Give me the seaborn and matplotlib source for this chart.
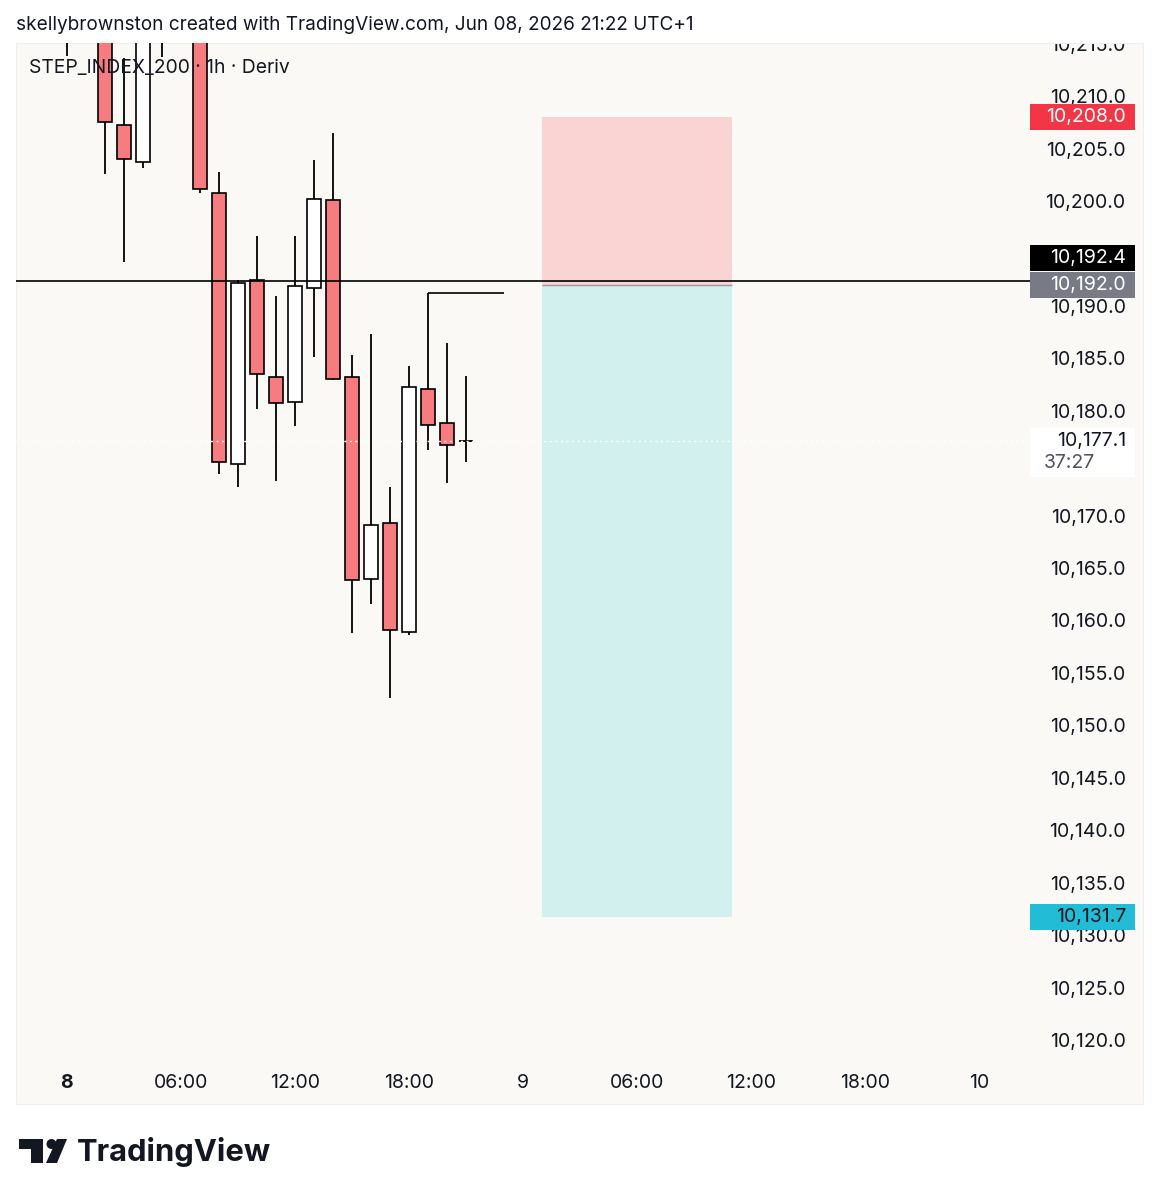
import numpy as np
import pandas as pd
import seaborn as sns
import matplotlib.pyplot as plt
import matplotlib.transforms as mtransforms
from matplotlib.patches import Rectangle, Circle, Polygon

# hourly candles, Jun 8 (hour 0 = 8 Jun 00:00)
hours = list(range(22))
opens = [10224.0, 10220.0, 10223.0, 10207.2, 10203.7, 10218.0, 10221.5, 10219.0,
         10200.8, 10174.9, 10192.5, 10183.2, 10180.8, 10191.7, 10200.1, 10183.2,
         10164.0, 10169.3, 10158.9, 10182.1, 10178.8, 10177.1]
highs = [10228.0, 10224.5, 10225.0, 10213.6, 10219.5, 10224.0, 10226.0, 10221.0,
         10202.8, 10192.5, 10196.7, 10190.9, 10196.7, 10203.9, 10206.5, 10185.3,
         10187.3, 10172.7, 10184.3, 10191.2, 10186.5, 10183.3]
lows = [10213.8, 10216.0, 10202.6, 10194.2, 10203.1, 10213.7, 10216.5, 10200.8,
        10174.0, 10172.7, 10180.2, 10173.3, 10178.5, 10185.1, 10182.9, 10158.8,
        10161.6, 10152.6, 10158.6, 10176.3, 10173.1, 10175.1]
closes = [10220.0, 10223.0, 10207.5, 10204.0, 10218.0, 10221.5, 10219.0, 10201.1,
          10175.1, 10192.2, 10183.5, 10180.7, 10191.9, 10200.2, 10183.0, 10163.9,
          10169.1, 10159.1, 10182.3, 10178.6, 10176.7, 10177.1]

# drawings
hline_price = 10192.4
ray_price = 10191.2
ray_start, ray_end = 19, 23
entry_price = 10192.0
stop_price = 10208.0
target_price = 10131.7
box_start, box_end = 25, 35
last_price = 10177.1
countdown = "37:27"

xtick_pos = [0, 6, 12, 18, 24, 30, 36, 42, 48]
xtick_labels = ["8", "06:00", "12:00", "18:00", "9", "06:00", "12:00", "18:00", "10"]
ytick_pos = list(range(10120, 10216, 5))
hidden_ticks = [10175, 10195]  # covered by price labels on the scale

df = pd.DataFrame({"hour": hours, "open": opens, "high": highs,
                   "low": lows, "close": closes})

sns.set_theme(style="white")
plt.rcParams['font.family'] = ['Inter', 'DejaVu Sans']

RED = "#f77c80"
BG = "#faf9f6"
TXT = "#131722"
FS = 14

fig = plt.figure(figsize=(11.59, 12.0), dpi=100)
fig.patch.set_facecolor("white")
ax = fig.add_axes([16 / 1159, 1 - 1104 / 1200, 1127 / 1159, 1061 / 1200])
ax.set_facecolor(BG)
for s in ax.spines.values():
    s.set_color("#eeeeec")
    s.set_linewidth(0.8)

ax.set_xlim(-2.68, 56.63)
ax.set_ylim(10113.9, 10215.06)

# position tool
ax.add_patch(Rectangle((box_start, entry_price), box_end - box_start,
                       stop_price - entry_price, facecolor="#f9d4d3",
                       edgecolor="none", zorder=1))
ax.add_patch(Rectangle((box_start, target_price), box_end - box_start,
                       entry_price - target_price, facecolor="#d1f0ee",
                       edgecolor="none", zorder=1))
ax.hlines(entry_price, box_start, box_end, color="#9598a1", lw=1.0, zorder=1.5)

# candles
ax.vlines(df["hour"], df["low"], df["high"], color="black", lw=1.3, zorder=3)
body = df[df["open"] != df["close"]]
colors = np.where(body["close"] > body["open"], "white", RED)
ax.bar(body["hour"], (body["close"] - body["open"]).abs(),
       bottom=body[["open", "close"]].min(axis=1), width=0.72,
       color=colors, edgecolor="black", linewidth=1.2, zorder=4)
flat = df[df["open"] == df["close"]]
ax.hlines(flat["open"], flat["hour"] - 0.36, flat["hour"] + 0.36,
          color="black", lw=1.3, zorder=4)

axr = mtransforms.blended_transform_factory(ax.transAxes, ax.transData)
plot_right = (1030 - 16) / 1127

# horizontal line and ray
ax.plot([0, plot_right], [hline_price, hline_price], color="black", lw=1.2,
        transform=axr, zorder=5)
ax.hlines(ray_price, ray_start, ray_end, color="black", lw=1.2, zorder=5)

# last price dotted line
ax.plot([0, plot_right], [last_price, last_price], color="white", lw=1.0,
        ls=(0, (1.5, 2.5)), transform=axr, zorder=6)

# ticks
ax.set_yticks(ytick_pos)
ax.set_yticklabels(["" if v in hidden_ticks else f"{v:,.1f}" for v in ytick_pos])
ax.yaxis.tick_right()
ax.tick_params(axis="y", length=0, pad=-12.5, labelsize=FS, labelcolor=TXT)
for lbl in ax.get_yticklabels():
    lbl.set_ha("right")
    lbl.set_clip_on(True)
    lbl.set_clip_box(ax.bbox)

ax.set_xticks(xtick_pos)
ax.set_xticklabels(xtick_labels)
ax.tick_params(axis="x", length=0, pad=-15, labelsize=FS, labelcolor=TXT)
for lbl in ax.get_xticklabels():
    lbl.set_va("center")
ax.get_xticklabels()[0].set_fontweight("bold")
ax.grid(False)


# price labels on the scale
lx0 = plot_right
lw_ = (1135 - 16) / 1127 - plot_right
tx = (1126 - 16) / 1127
lh = 2.5


def price_label(yc, text, bg, fg):
    ax.add_patch(Rectangle((lx0, yc - lh / 2), lw_, lh, facecolor=bg,
                           edgecolor="none", transform=axr, zorder=8,
                           clip_on=False))
    ax.text(tx, yc, text, transform=axr, ha="right", va="center",
            fontsize=FS, color=fg, zorder=9)


price_label(stop_price, f"{stop_price:,.1f}", "#f23645", "white")
price_label(entry_price, f"{entry_price:,.1f}", "#787b86", "white")
price_label(entry_price + 2.57, f"{hline_price:,.1f}", "black", "white")
price_label(target_price, f"{target_price:,.1f}", "#22bcd6", TXT)

# last price label with countdown
ax.add_patch(Rectangle((lx0, last_price - 3.43), lw_, 4.67, facecolor="white",
                       edgecolor="none", transform=axr, zorder=8))
ax.text(tx, last_price, f"{last_price:,.1f}", transform=axr, ha="right",
        va="center", fontsize=FS, color=TXT, zorder=9)
ax.text(lx0 + 0.0125, last_price - 2.1, countdown, transform=axr, ha="left",
        va="center", fontsize=FS, color="#50535e", zorder=9)

# legend text
ax.text((29 - 16) / 1127, 1 - (68 - 43) / 1061,
        "STEP_INDEX_200 · 1h · Deriv", transform=ax.transAxes, ha="left",
        va="center", fontsize=13.9, color=TXT, zorder=10)

# header and logo on an overlay in pixel units
ov = fig.add_axes([0, 0, 1, 1], facecolor="none")
ov.set_xlim(0, 1159)
ov.set_ylim(1200, 0)
ov.axis("off")
ov.text(16, 25, "skellybrownston created with TradingView.com, Jun 08, 2026 21:22 UTC+1",
        ha="left", va="center", fontsize=13.7, color=TXT)
ov.add_patch(Polygon([(19, 1139), (43, 1139), (43, 1163), (31, 1163), (31, 1149), (19, 1149)],
                     closed=True, facecolor=TXT, edgecolor="none"))
ov.add_patch(Circle((51.5, 1144), 5, facecolor=TXT, edgecolor="none"))
ov.add_patch(Polygon([(57, 1139), (67, 1139), (57, 1163), (46, 1163)],
                     closed=True, facecolor=TXT, edgecolor="none"))
ov.text(77, 1152, "TradingView", ha="left", va="center", fontsize=22.3,
        fontweight="bold", color=TXT)

fig.savefig("out.png", dpi=100)
